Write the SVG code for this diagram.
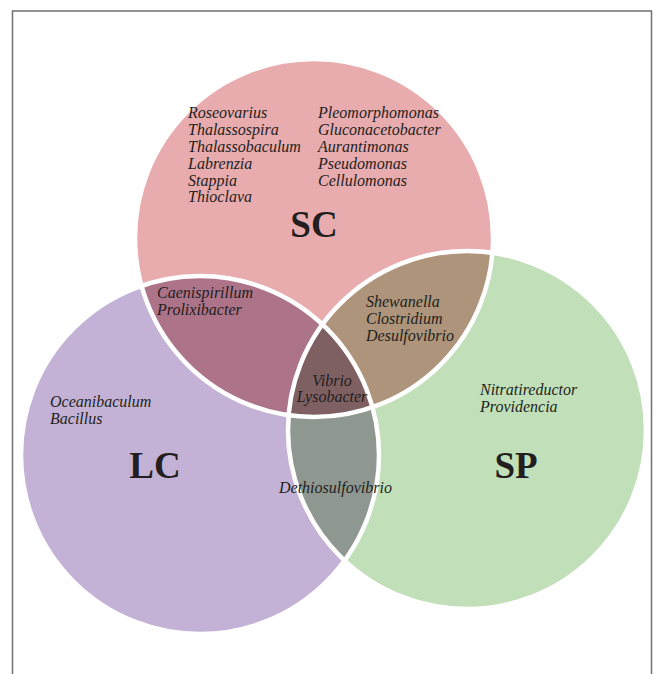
<svg xmlns="http://www.w3.org/2000/svg" width="654" height="674" viewBox="0 0 654 674">
<style>
.t{font-family:"Liberation Serif","Times New Roman",serif;font-style:italic;font-size:16px;fill:#231f20}
.big{font-family:"Liberation Serif","Times New Roman",serif;font-weight:bold;font-size:37px;fill:#231f20;text-anchor:middle}
.edge{fill:none;stroke:#ffffff;stroke-width:4.5}
</style>
<defs>
<clipPath id="cSC"><circle cx="314" cy="238" r="179"/></clipPath>
<clipPath id="cLC"><circle cx="200" cy="455" r="179"/></clipPath>
<clipPath id="cSCLC" clip-path="url(#cSC)"><circle cx="200" cy="455" r="179"/></clipPath>
</defs>
<rect x="12.5" y="11" width="639" height="700" fill="#ffffff" stroke="#707070" stroke-width="1.5"/>
<g id="SC"><circle cx="314" cy="238" r="179" fill="#e8abae"/></g>
<g id="LC"><circle cx="200" cy="455" r="179" fill="#c3b2d5"/></g>
<g id="SP"><circle cx="467" cy="430" r="179" fill="#c1dfb8"/></g>
<g id="SC-LC"><circle cx="200" cy="455" r="179" fill="#ac7389" clip-path="url(#cSC)"/></g>
<g id="SC-SP"><circle cx="467" cy="430" r="179" fill="#ad947a" clip-path="url(#cSC)"/></g>
<g id="LC-SP"><circle cx="467" cy="430" r="179" fill="#8f9890" clip-path="url(#cLC)"/></g>
<g id="SC-LC-SP"><circle cx="467" cy="430" r="179" fill="#7e6062" clip-path="url(#cSCLC)"/></g>
<g id="edges">
<circle class="edge" cx="314" cy="238" r="179"/>
<circle class="edge" cx="200" cy="455" r="179"/>
<circle class="edge" cx="467" cy="430" r="179"/>
</g>
<g id="labels">
<text class="t" x="188" y="118">Roseovarius</text>
<text class="t" x="188" y="135">Thalassospira</text>
<text class="t" x="188" y="152">Thalassobaculum</text>
<text class="t" x="188" y="168.5">Labrenzia</text>
<text class="t" x="188" y="185.5">Stappia</text>
<text class="t" x="188" y="202">Thioclava</text>
<text class="t" x="318" y="118">Pleomorphomonas</text>
<text class="t" x="318" y="135">Gluconacetobacter</text>
<text class="t" x="318" y="152">Aurantimonas</text>
<text class="t" x="318" y="168.5">Pseudomonas</text>
<text class="t" x="318" y="185.5">Cellulomonas</text>
<text class="big" x="314" y="237">SC</text>
<text class="t" x="157" y="298">Caenispirillum</text>
<text class="t" x="157" y="315">Prolixibacter</text>
<text class="t" x="366" y="307">Shewanella</text>
<text class="t" x="366" y="324">Clostridium</text>
<text class="t" x="366" y="341">Desulfovibrio</text>
<text class="t" x="332" y="386" text-anchor="middle">Vibrio</text>
<text class="t" x="332" y="402" text-anchor="middle">Lysobacter</text>
<text class="t" x="50" y="407">Oceanibaculum</text>
<text class="t" x="50" y="424">Bacillus</text>
<text class="t" x="480" y="395">Nitratireductor</text>
<text class="t" x="480" y="412">Providencia</text>
<text class="big" x="155" y="478">LC</text>
<text class="big" x="516" y="478">SP</text>
<text class="t" x="279" y="493">Dethiosulfovibrio</text>
</g>
</svg>
